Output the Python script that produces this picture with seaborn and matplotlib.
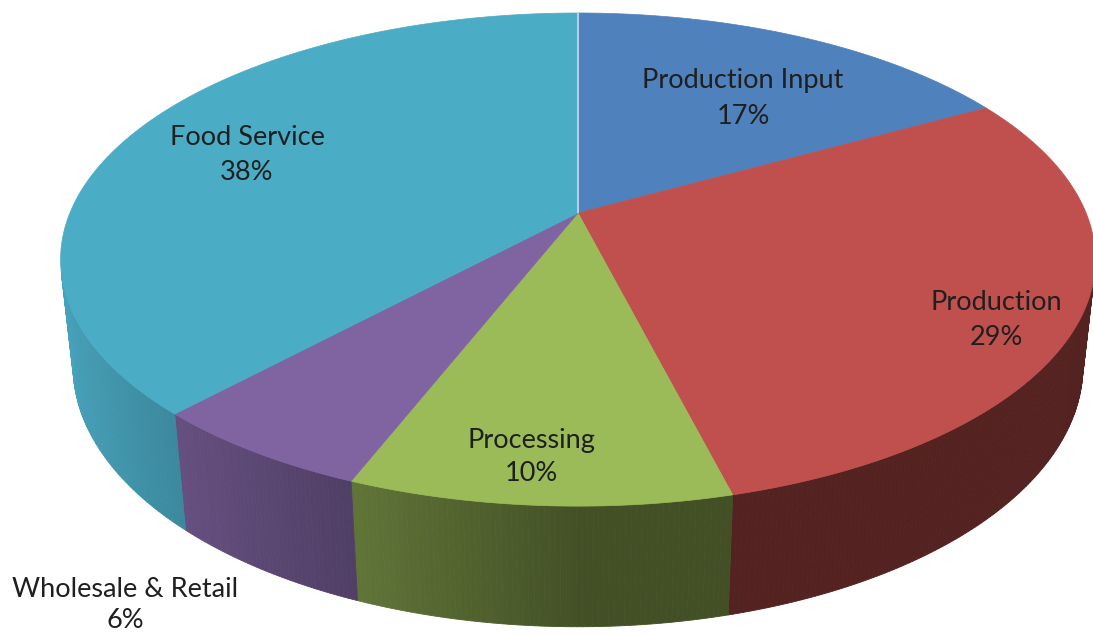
import numpy as np
import matplotlib
matplotlib.use("Agg")
import matplotlib.pyplot as plt
import seaborn as sns
from matplotlib.patches import Polygon

# Share of each stage of the food chain
categories = ["Production Input", "Production", "Processing", "Wholesale & Retail", "Food Service"]
shares = [17, 29, 10, 6, 38]
slice_colors = ["#4F81BD", "#C0504D", "#9BBB59", "#8064A2", "#4BACC6"]

sns.set_theme(style="white")
plt.rcParams["font.family"] = ["Lato", "DejaVu Sans"]
palette = sns.color_palette(slice_colors)

W, H = 1093, 634
fig = plt.figure(figsize=(W / 100, H / 100), dpi=100)
ax = fig.add_axes([0, 0, 1, 1])
ax.set_xlim(0, W)
ax.set_ylim(H, 0)
ax.axis("off")

# Perspective camera looking down at a unit-radius disc
tilt = np.radians(27.9)
ct, st = np.cos(tilt), np.sin(tilt)
dist = 4.68
focal = 2378.0
thickness = 0.24
cx0, cy0 = 578.0, 213.0


def project(x, y, z):
    depth = y * ct + dist - z * st
    sx = focal * x / depth
    sy = focal * (y * st + z * ct) / depth
    return cx0 + sx, cy0 - sy


def rim(theta, z):
    # theta measured clockwise from the far side of the disc
    return project(np.sin(theta), np.cos(theta), z)


def shade(rgb, theta):
    nx = np.sin(theta)
    k = 0.43 + 0.53 * np.clip(-nx, 0, 1)
    return tuple(np.clip(np.array(rgb) * k, 0, 1))


fractions = np.array(shares, dtype=float) / np.sum(shares)
bounds = np.concatenate([[0.0], np.cumsum(fractions)]) * 2 * np.pi

# Only the part of the side wall that faces the camera is drawn
lim = np.arccos(-1.0 / (dist * ct))
vis_lo, vis_hi = lim, 2 * np.pi - lim

# Side walls
for i, col in enumerate(palette):
    a0, a1 = max(bounds[i], vis_lo), min(bounds[i + 1], vis_hi)
    if a1 <= a0:
        continue
    n = max(2, int(np.degrees(a1 - a0) / 0.5) + 1)
    th = np.linspace(a0, a1, n)
    for j in range(n - 1):
        t0, t1 = th[j], th[j + 1]
        p = [rim(t0, 0), rim(t1, 0), rim(t1, -thickness), rim(t0, -thickness)]
        c = shade(col, 0.5 * (t0 + t1))
        ax.add_patch(Polygon(p, closed=True, facecolor=c, edgecolor=c,
                             linewidth=0.6, zorder=1))

# Top faces
for i, col in enumerate(palette):
    th = np.linspace(bounds[i], bounds[i + 1], 200)
    pts = [project(0, 0, 0)] + [rim(t, 0) for t in th]
    ax.add_patch(Polygon(pts, closed=True, facecolor=col, edgecolor=col,
                         linewidth=0.5, zorder=2))

# Light seam along the starting edge
x_top, y_top = rim(0.0, 0)
xc, yc = project(0, 0, 0)
ax.plot([xc, x_top], [yc, y_top], color="#B8CCE4", lw=1.5, zorder=3,
        solid_capstyle="butt")

# Data labels: category name above, percentage below
label_pos = [(743, 78, 114), (996, 300, 335), (531, 438, 471),
             (125, 587, 618), (247, 135, 170)]
for name, val, (lx, y1, y2) in zip(categories, shares, label_pos):
    ax.text(lx, y1, name, ha="center", va="center_baseline",
            fontsize=19.5, color="#1F1F1F", zorder=4)
    ax.text(lx, y2, f"{val}%", ha="center", va="center_baseline",
            fontsize=19.5, color="#1F1F1F", zorder=4)

fig.savefig("out.png", dpi=100, facecolor="white")
